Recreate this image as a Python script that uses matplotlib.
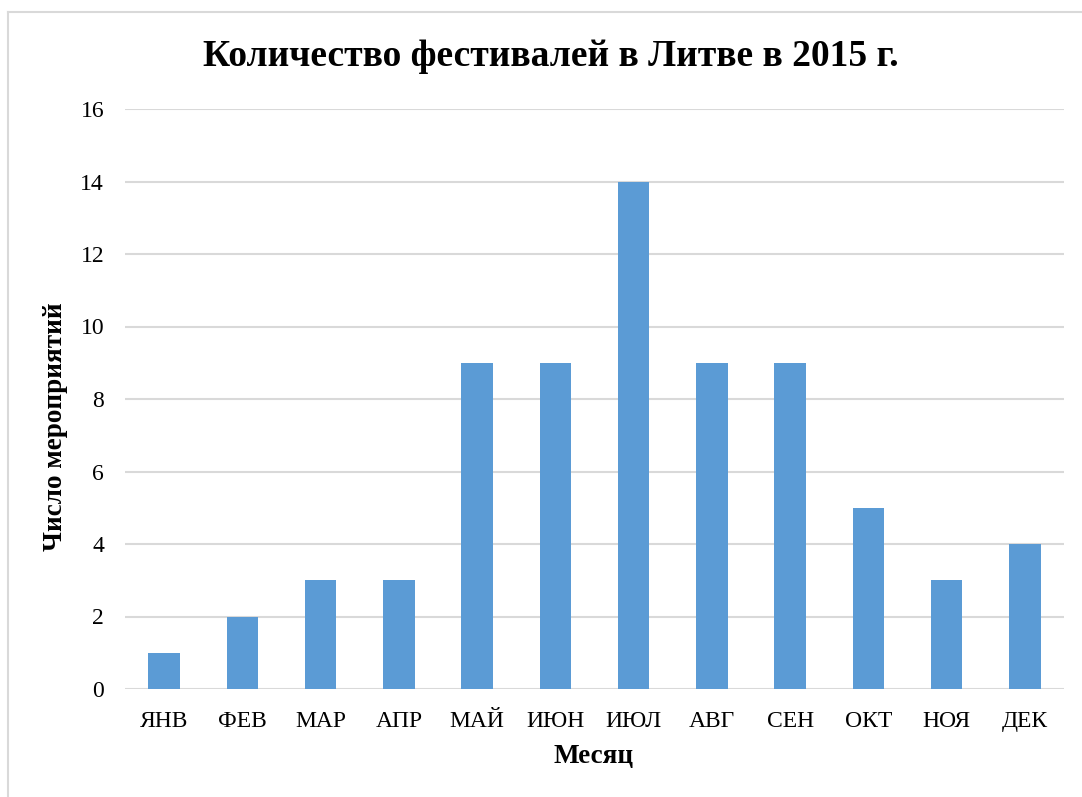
import matplotlib
matplotlib.use("Agg")
import matplotlib.pyplot as plt
from matplotlib.lines import Line2D

months = ["ЯНВ", "ФЕВ", "МАР", "АПР", "МАЙ", "ИЮН", "ИЮЛ", "АВГ", "СЕН", "ОКТ", "НОЯ", "ДЕК"]
counts = [1, 2, 3, 3, 9, 9, 14, 9, 9, 5, 3, 4]
yticks = [0, 2, 4, 6, 8, 10, 12, 14, 16]

title = "Количество фестивалей в Литве в 2015 г."
xlabel = "Месяц"
ylabel = "Число мероприятий"

plt.rcParams['font.family'] = ['Liberation Serif', 'DejaVu Serif']

W, H = 1082, 797
fig = plt.figure(figsize=(W / 100, H / 100), dpi=100)
ax = fig.add_axes([125 / W, 1 - 689 / H, (1064 - 125) / W, (689 - 109) / H])

x = list(range(len(months)))
ax.bar(x, counts, width=0.4, color="#5B9BD5", zorder=3)
ax.set_xlim(-0.5, len(months) - 0.5)
ax.set_ylim(0, 16)
ax.set_yticks(yticks)
ax.set_yticklabels([str(v) for v in yticks], fontsize=17)
ax.set_xticks(x)
ax.set_xticklabels(months, fontsize=17)
ax.tick_params(axis='both', length=0, colors='#000000')
ax.tick_params(axis='x', pad=16)
ax.tick_params(axis='y', pad=15)
ax.grid(axis='y', color="#D9D9D9", linewidth=1.5, zorder=0)
for s in ax.spines.values():
    s.set_visible(False)

fig.text(551 / W, 1 - 57 / H, title, ha='center', va='center', fontsize=27, fontweight='bold')
fig.text(594 / W, 1 - 756 / H, xlabel, ha='center', va='center', fontsize=19.5, fontweight='bold')
fig.text(55 / W, 1 - 427 / H, ylabel, ha='center', va='center', fontsize=19.5, fontweight='bold', rotation=90)

# outer chart border (left and top visible)
fig.add_artist(Line2D([8 / W, 8 / W], [0, 1 - 12 / H], transform=fig.transFigure, color="#D9D9D9", linewidth=1.5))
fig.add_artist(Line2D([8 / W, 1], [1 - 12 / H, 1 - 12 / H], transform=fig.transFigure, color="#D9D9D9", linewidth=1.5))

fig.savefig("out.png", dpi=100)
